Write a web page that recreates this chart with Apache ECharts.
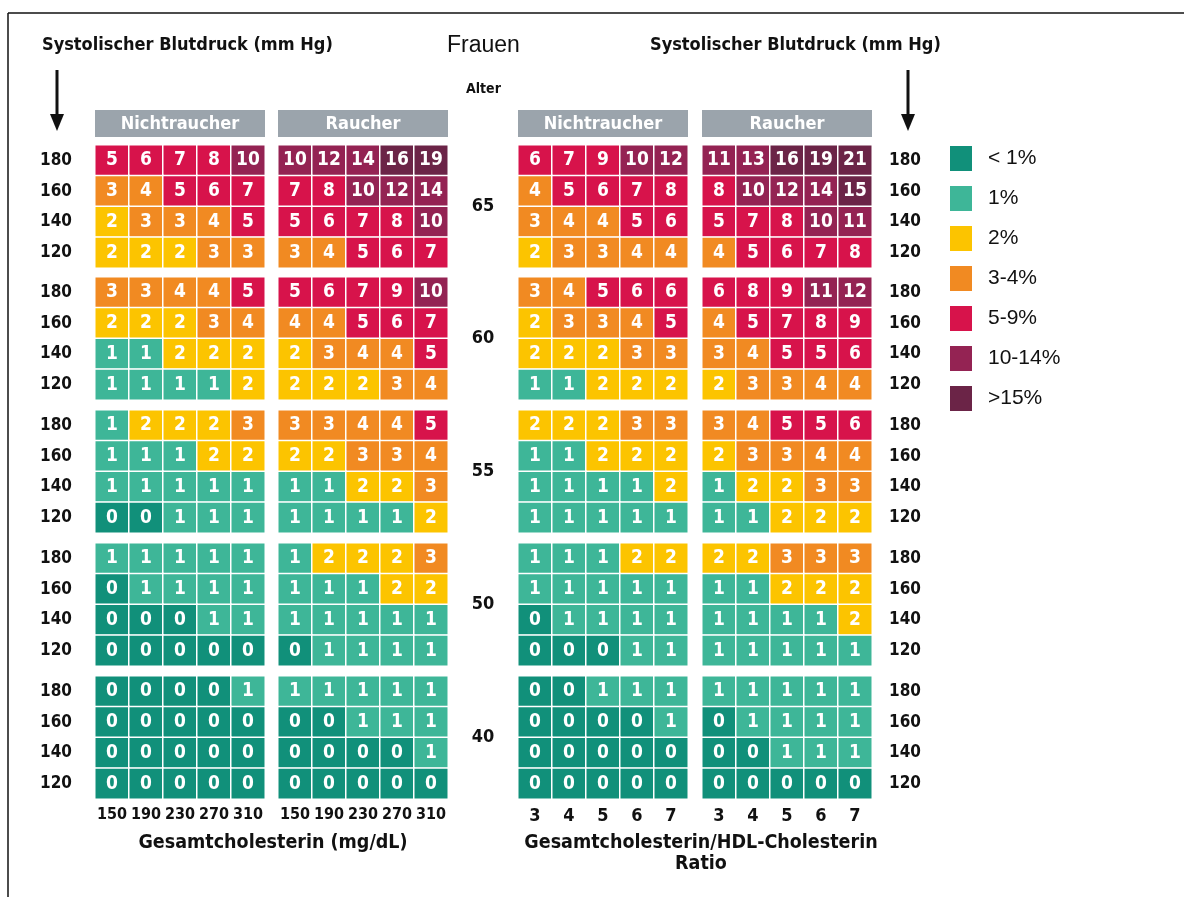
<!DOCTYPE html>
<html><head><meta charset="utf-8">
<script src="https://cdn.jsdelivr.net/npm/echarts@6/dist/echarts.min.js"></script>
<style>html,body{margin:0;padding:0;background:#fff}#c{width:1184px;height:897px}</style>
</head><body><div id="c"></div>
<script>
// ---------- data ----------
const ages = ['65', '60', '55', '50', '40'];
const bpLevels = ['120', '140', '160', '180'];
const cholLabels = ['150', '190', '230', '270', '310'];
const ratioLabels = ['3', '4', '5', '6', '7'];
const riskLabels = ['< 1%', '1%', '2%', '3-4%', '5-9%', '10-14%', '>15%'];
const panelHeaders = ['Nichtraucher', 'Raucher', 'Nichtraucher', 'Raucher'];

// each age block: rows top-to-bottom = 180, 160, 140, 120
const cholNonSmoker = [
  [[5,6,7,8,10],[3,4,5,6,7],[2,3,3,4,5],[2,2,2,3,3]],
  [[3,3,4,4,5],[2,2,2,3,4],[1,1,2,2,2],[1,1,1,1,2]],
  [[1,2,2,2,3],[1,1,1,2,2],[1,1,1,1,1],[0,0,1,1,1]],
  [[1,1,1,1,1],[0,1,1,1,1],[0,0,0,1,1],[0,0,0,0,0]],
  [[0,0,0,0,1],[0,0,0,0,0],[0,0,0,0,0],[0,0,0,0,0]]
];
const cholSmoker = [
  [[10,12,14,16,19],[7,8,10,12,14],[5,6,7,8,10],[3,4,5,6,7]],
  [[5,6,7,9,10],[4,4,5,6,7],[2,3,4,4,5],[2,2,2,3,4]],
  [[3,3,4,4,5],[2,2,3,3,4],[1,1,2,2,3],[1,1,1,1,2]],
  [[1,2,2,2,3],[1,1,1,2,2],[1,1,1,1,1],[0,1,1,1,1]],
  [[1,1,1,1,1],[0,0,1,1,1],[0,0,0,0,1],[0,0,0,0,0]]
];
const ratioNonSmoker = [
  [[6,7,9,10,12],[4,5,6,7,8],[3,4,4,5,6],[2,3,3,4,4]],
  [[3,4,5,6,6],[2,3,3,4,5],[2,2,2,3,3],[1,1,2,2,2]],
  [[2,2,2,3,3],[1,1,2,2,2],[1,1,1,1,2],[1,1,1,1,1]],
  [[1,1,1,2,2],[1,1,1,1,1],[0,1,1,1,1],[0,0,0,1,1]],
  [[0,0,1,1,1],[0,0,0,0,1],[0,0,0,0,0],[0,0,0,0,0]]
];
const ratioSmoker = [
  [[11,13,16,19,21],[8,10,12,14,15],[5,7,8,10,11],[4,5,6,7,8]],
  [[6,8,9,11,12],[4,5,7,8,9],[3,4,5,5,6],[2,3,3,4,4]],
  [[3,4,5,5,6],[2,3,3,4,4],[1,2,2,3,3],[1,1,2,2,2]],
  [[2,2,3,3,3],[1,1,2,2,2],[1,1,1,1,2],[1,1,1,1,1]],
  [[1,1,1,1,1],[0,1,1,1,1],[0,0,1,1,1],[0,0,0,0,0]]
];

// ---------- styling / layout ----------
const COND = "'Liberation Sans Narrow','DejaVu Sans Condensed','Roboto Condensed',Roboto,sans-serif";
const ARIAL = "'Liberation Sans',Arial,sans-serif";
const riskColors = ['#11907a', '#3eb698', '#fcc400', '#f18a22', '#d7134b', '#942353', '#6b2447'];
const panels = [
  {data: cholNonSmoker, cats: cholLabels, left: 95, labelSize: 16},
  {data: cholSmoker, cats: cholLabels, left: 278, labelSize: 16},
  {data: ratioNonSmoker, cats: ratioLabels, left: 518, labelSize: 18},
  {data: ratioSmoker, cats: ratioLabels, left: 702, labelSize: 18}
];
const blockTops = [145, 277, 410, 543, 676];
const PW = 170, BH = 123;

const grid = [], xAxis = [], yAxis = [], series = [];
panels.forEach((p, pi) => {
  ages.forEach((age, ai) => {
    const gi = grid.length;
    grid.push({left: p.left, top: blockTops[ai], width: PW, height: BH});
    xAxis.push({
      type: 'category', gridIndex: gi, data: p.cats, show: ai === ages.length - 1,
      axisLine: {show: false}, axisTick: {show: false}, splitLine: {show: false},
      axisLabel: {interval: 0, hideOverlap: false, margin: 8, fontFamily: COND, fontWeight: 'bold', fontSize: p.labelSize, color: '#111'}
    });
    yAxis.push({
      type: 'category', gridIndex: gi, data: bpLevels, show: pi === 0 || pi === 3,
      position: pi === 3 ? 'right' : 'left',
      axisLine: {show: false}, axisTick: {show: false}, splitLine: {show: false},
      axisLabel: {interval: 0, margin: pi === 3 ? 17 : 23, fontFamily: COND, fontWeight: 'bold', fontSize: 17, color: '#111'}
    });
    const d = [];
    p.data[ai].forEach((row, r) => row.forEach((v, c) => d.push([c, bpLevels.length - 1 - r, v])));
    series.push({
      type: 'heatmap', xAxisIndex: gi, yAxisIndex: gi, data: d,
      itemStyle: {borderColor: '#fff', borderWidth: 1.5},
      label: {show: true, color: '#fff', fontFamily: COND, fontWeight: 'bold', fontSize: 19,
        formatter: q => q.value[2]},
      emphasis: {disabled: true}
    });
  });
});

const graphic = [
  {type: 'line', shape: {x1: 8, y1: 13, x2: 1184, y2: 13}, style: {stroke: '#111', lineWidth: 1.5}},
  {type: 'line', shape: {x1: 8, y1: 13, x2: 8, y2: 897}, style: {stroke: '#111', lineWidth: 1.5}},
  {type: 'text', left: 42, top: 36, style: {text: 'Systolischer Blutdruck (mm Hg)', font: "bold 18px " + COND, fill: '#111'}},
  {type: 'text', left: 650, top: 36, style: {text: 'Systolischer Blutdruck (mm Hg)', font: "bold 18px " + COND, fill: '#111'}},
  {type: 'text', left: 447, top: 34, style: {text: 'Frauen', font: "23px " + ARIAL, fill: '#111'}},
  {type: 'text', left: 466, top: 82, style: {text: 'Alter', font: "bold 14px " + COND, fill: '#111'}},
  // arrows
  {type: 'line', shape: {x1: 57, y1: 70, x2: 57, y2: 118}, style: {stroke: '#111', lineWidth: 3}},
  {type: 'polygon', shape: {points: [[50, 114], [64, 114], [57, 131]]}, style: {fill: '#111'}},
  {type: 'line', shape: {x1: 908, y1: 70, x2: 908, y2: 118}, style: {stroke: '#111', lineWidth: 3}},
  {type: 'polygon', shape: {points: [[901, 114], [915, 114], [908, 131]]}, style: {fill: '#111'}},
  // axis titles
  {type: 'text', x: 273, y: 843, style: {text: 'Gesamtcholesterin (mg/dL)', font: "bold 19.5px " + COND, fill: '#111', align: 'center', verticalAlign: 'middle'}},
  {type: 'text', x: 701, y: 843, style: {text: 'Gesamtcholesterin/HDL-Cholesterin', font: "bold 19.5px " + COND, fill: '#111', align: 'center', verticalAlign: 'middle'}},
  {type: 'text', x: 701, y: 864, style: {text: 'Ratio', font: "bold 19.5px " + COND, fill: '#111', align: 'center', verticalAlign: 'middle'}}
];
panels.forEach((p, pi) => {
  graphic.push({type: 'rect', shape: {x: p.left, y: 110, width: PW, height: 27}, style: {fill: '#9ba4ac'}});
  graphic.push({type: 'text', x: p.left + PW / 2, y: 124, style: {text: panelHeaders[pi], font: "bold 18px " + COND, fill: '#fff', align: 'center', verticalAlign: 'middle'}});
});
ages.forEach((age, ai) => {
  graphic.push({type: 'text', x: 483, y: blockTops[ai] + BH / 2, style: {text: age, font: "bold 18px " + COND, fill: '#111', align: 'center', verticalAlign: 'middle'}});
});

const option = {
  backgroundColor: '#fff',
  animation: false,
  grid, xAxis, yAxis, series, graphic,
  visualMap: {
    type: 'piecewise', seriesIndex: series.map((s, i) => i),
    left: 935, top: 131, orient: 'vertical', inverse: true, align: 'left',
    itemWidth: 22, itemHeight: 25, itemGap: 15, itemSymbol: 'rect', textGap: 16,
    selectedMode: false, hoverLink: false,
    textStyle: {fontFamily: ARIAL, fontSize: 21, color: '#111'},
    pieces: [
      {value: 0, label: riskLabels[0], color: riskColors[0]},
      {value: 1, label: riskLabels[1], color: riskColors[1]},
      {value: 2, label: riskLabels[2], color: riskColors[2]},
      {gte: 3, lte: 4, label: riskLabels[3], color: riskColors[3]},
      {gte: 5, lte: 9, label: riskLabels[4], color: riskColors[4]},
      {gte: 10, lte: 14, label: riskLabels[5], color: riskColors[5]},
      {gte: 15, label: riskLabels[6], color: riskColors[6]}
    ]
  }
};
const chart = echarts.init(document.getElementById('c'), null, {renderer: 'canvas'});
chart.setOption(option);
</script></body></html>
